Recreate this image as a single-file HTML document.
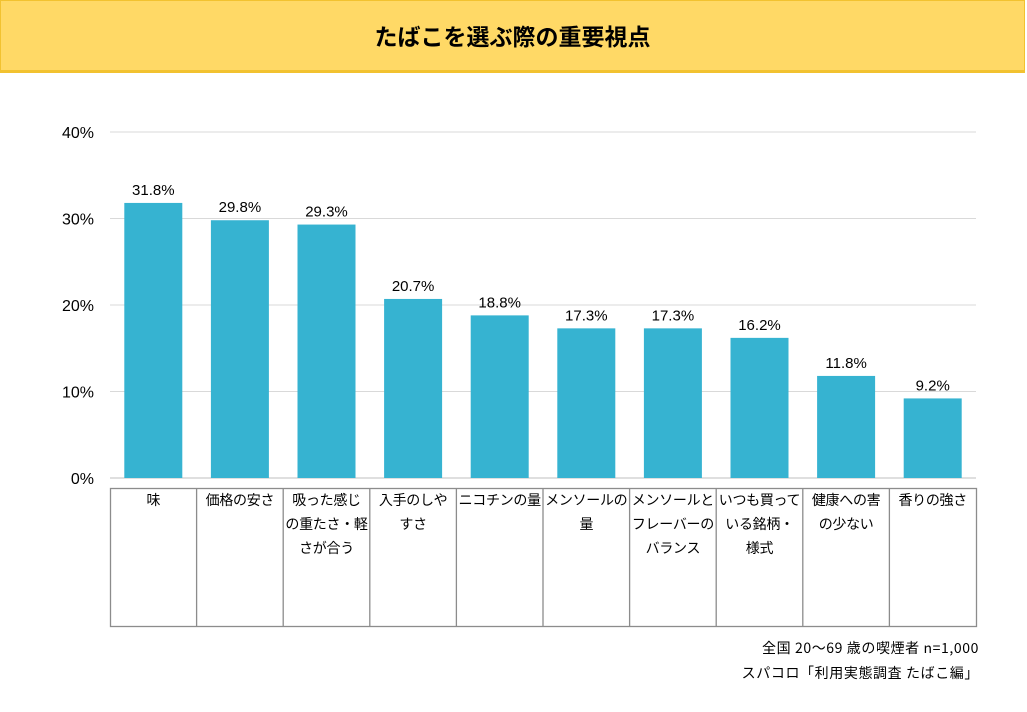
<!DOCTYPE html>
<html><head><meta charset="utf-8"><style>
body{margin:0;width:1027px;height:712px;background:#fff;overflow:hidden;font-family:"Liberation Sans","Noto Sans CJK JP",sans-serif;}
#title{position:absolute;left:0;top:0;width:1025px;background:#FFD966;border:1px solid #F2C230;border-bottom:3px solid #F2C230;box-sizing:border-box;height:73px;}
#title span{position:absolute;left:0;right:0;top:17px;text-align:center;font-size:23px;font-weight:bold;color:#000;font-family:"Noto Sans CJK JP",sans-serif;}
.note{position:absolute;right:48px;font-size:14px;letter-spacing:0.6px;color:#000;font-family:"Noto Sans CJK JP",sans-serif;}
</style></head><body>
<div id="title"><span>たばこを選ぶ際の重要視点</span></div>
<svg id="chart" width="1027" height="712" style="position:absolute;left:0;top:0"></svg>
<div class="note" style="top:638px">全国 20～69 歳の喫煙者 n=1,000</div>
<div class="note" style="top:663px">スパコロ「利用実態調査 たばこ編」</div>
<script>
const categories=[["味"],["価格の安さ"],["吸った感じ","の重たさ・軽","さが合う"],["入手のしや","すさ"],["ニコチンの量"],["メンソールの","量"],["メンソールと","フレーバーの","バランス"],["いつも買って","いる銘柄・","様式"],["健康への害","の少ない"],["香りの強さ"]];
const values=[31.8,29.8,29.3,20.7,18.8,17.3,17.3,16.2,11.8,9.2];
const yTicks=[0,10,20,30,40];
const tickLabels=["0%","10%","20%","30%","40%"];
const svg=document.getElementById('chart');const NS="http://www.w3.org/2000/svg";
const x0=110,x1=976,yTop=132,yBot=478,yMax=40;
const bw=(x1-x0)/categories.length;
const y=v=>yBot-(v/yMax)*(yBot-yTop);
const xc=i=>x0+bw*(i+0.5);
function mk(t,a){const e=document.createElementNS(NS,t);for(const k in a)e.setAttribute(k,a[k]);svg.appendChild(e);return e;}
yTicks.forEach((t,i)=>{
 const l=mk('line',{x1:x0,x2:x1,y1:y(t),y2:y(t),stroke:t===0?'#bfbfbf':'#d9d9d9','stroke-width':1});
 
 
 const tx=mk('text',{x:94,y:y(t)+6,'text-anchor':'end','font-size':16,fill:'#000'});tx.textContent=tickLabels[i];
 
 
});
values.forEach((v,i)=>{
 const r=mk('rect',{x:xc(i)-29,y:y(v),width:58,height:yBot-y(v),fill:'#36B3D1'});
 
 
 const t=mk('text',{x:xc(i),y:y(v)-8,'text-anchor':'middle','font-size':15,fill:'#000'});t.textContent=v.toFixed(1)+'%';
 
 
});
const tT=488,tB=626;
const tb=mk('rect',{x:x0+0.5,y:tT+0.5,width:x1-x0,height:tB-tT,fill:'none',stroke:'#8c8c8c','stroke-width':1.3});


categories.forEach((c,i)=>{
 if(i>0){const l=mk('line',{x1:x0+bw*i,x2:x0+bw*i,y1:tT,y2:tB,stroke:'#8c8c8c','stroke-width':1.3});
 
 }
 c.forEach((s,j)=>{const t=mk('text',{x:xc(i),y:tT+17+j*24,'text-anchor':'middle','font-size':14,'letter-spacing':'-0.3',fill:'#000','font-family':'Noto Sans CJK JP,sans-serif'});t.textContent=s;
 
 });
});
</script>
</body></html>
